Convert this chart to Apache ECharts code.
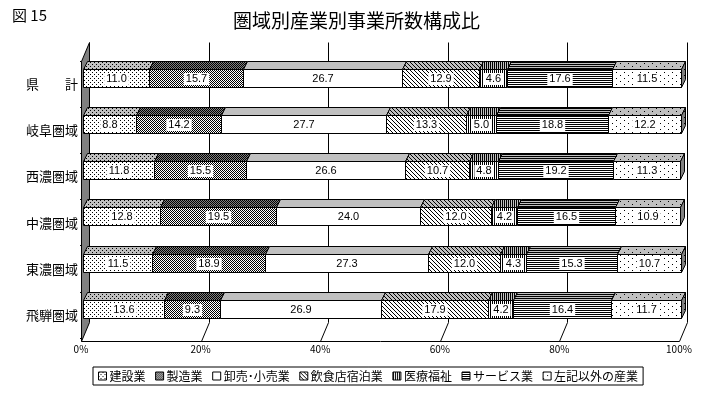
<!DOCTYPE html>
<html><head><meta charset="utf-8">
<script src="https://cdn.jsdelivr.net/npm/echarts@6/dist/echarts.min.js"></script>
<style>html,body{margin:0;padding:0;background:#fff}#c{width:713px;height:396px}</style>
</head><body><div id="c"></div>
<script>
const regions = ['県　　計','岐阜圏域','西濃圏域','中濃圏域','東濃圏域','飛騨圏域'];
const industries = ['建設業','製造業','卸売･小売業','飲食店宿泊業','医療福祉','サービス業','左記以外の産業'];
const kensetsu = [11.0, 8.8, 11.8, 12.8, 11.5, 13.6];
const seizou   = [15.7, 14.2, 15.5, 19.5, 18.9, 9.3];
const oroshi   = [26.7, 27.7, 26.6, 24.0, 27.3, 26.9];
const inshoku  = [12.9, 13.3, 10.7, 12.0, 12.0, 17.9];
const iryou    = [4.6, 5.0, 4.8, 4.2, 4.3, 4.2];
const service  = [17.6, 18.8, 19.2, 16.5, 15.3, 16.4];
const sonota   = [11.5, 12.2, 11.3, 10.9, 10.7, 11.7];
const xTicks = [0, 20, 40, 60, 80, 100];

function pat(w, h, bg, dots) {
  const c = document.createElement('canvas'); c.width = w; c.height = h;
  const g = c.getContext('2d'); g.fillStyle = bg; g.fillRect(0, 0, w, h);
  g.fillStyle = '#000'; dots.forEach(([x, y]) => g.fillRect(x, y, 1, 1));
  return { image: c, repeat: 'repeat' };
}
const diag = [[0,0],[1,1],[2,2],[3,3]];
const fronts = [
  pat(4,4,'#fff',[[0,0],[2,2]]),
  pat(2,2,'#fff',[[0,0],[1,1]]),
  '#ffffff',
  pat(4,4,'#fff',diag),
  pat(2,1,'#fff',[[0,0]]),
  pat(1,2,'#fff',[[0,0]]),
  pat(8,6,'#fff',[[0,0],[4,3]])
];
const tops = [
  pat(4,4,'#c0c0c0',[[0,0],[2,2]]),
  pat(2,2,'#808080',[[0,0],[1,1]]),
  '#c0c0c0',
  pat(4,4,'#c0c0c0',diag),
  pat(2,1,'#c0c0c0',[[0,0]]),
  pat(1,2,'#c0c0c0',[[0,0]]),
  pat(8,6,'#c0c0c0',[[0,0],[4,3]])
];
const sideFill = pat(8,6,'#808080',[[0,0],[4,3]]);
const seriesValues = [kensetsu, seizou, oroshi, inshoku, iryou, service, sonota];

const FONT = '"Noto Sans CJK JP", sans-serif';
const r = v => Math.round(v) + 0.5;

const series = [];
// frame: wall, floor, back grid lines
series.push({
  type: 'custom', silent: true, z: 1, data: [[0, 0]], encode: { x: 0, y: 1 },
  renderItem: function (params, api) {
    const cs = params.coordSys;
    const topY = r(cs.y), backTop = topY - 19;
    const floorFront = r(cs.y + cs.height + 3), floorBack = floorFront - 19;
    const children = [];
    xTicks.forEach(v => {
      const cx = Math.round(api.coord([v, 0])[0]);
      const bx = cx + 6.5, fx = cx - 1.5;
      if (v === xTicks[0]) {
        children.push({ type: 'polygon', shape: { points: [[fx, topY], [bx, backTop], [bx, floorBack], [fx, floorFront]] },
          style: { fill: '#808080', stroke: '#000', lineWidth: 1 } });
      } else {
        children.push({ type: 'polyline', shape: { points: [[bx, backTop], [bx, floorBack], [fx, floorFront]] },
          style: { fill: null, stroke: '#000', lineWidth: 1 } });
      }
    });
    const x0 = Math.round(api.coord([xTicks[0], 0])[0]) - 1.5;
    const x1 = Math.round(api.coord([xTicks[xTicks.length - 1], 0])[0]) - 1.5;
    children.push({ type: 'line', shape: { x1: x0, y1: floorFront, x2: x1, y2: floorFront }, style: { stroke: '#000', lineWidth: 1 } });
    return { type: 'group', children: children };
  }
});

industries.forEach((name, k) => {
  const data = regions.map((_, i) => {
    let s = 0; for (let j = 0; j < k; j++) s += seriesValues[j][i];
    return [i, s, seriesValues[k][i]];
  });
  const isLast = k === industries.length - 1;
  series.push({
    type: 'custom', name: name, silent: true, z: 2,
    itemStyle: { color: fronts[k], borderColor: '#000', borderWidth: 1 },
    encode: { x: 1, y: 0 },
    data: data,
    renderItem: function (params, api) {
      const i = api.value(0), s = api.value(1), v = api.value(2);
      const band = api.size([0, 1])[1];
      const cy = api.coord([0, i])[1];
      const yt = r(cy - band / 2), yf = yt + 8, yb = yt + 26;
      const xa = r(api.coord([s, i])[0]), xb = r(api.coord([s + v, i])[0]);
      const ch = [
        { type: 'polygon', shape: { points: [[xa, yf], [xb, yf], [xb + 4, yt], [xa + 4, yt]] },
          style: { fill: tops[k], stroke: '#000', lineWidth: 1 } },
        { type: 'rect', shape: { x: xa, y: yf, width: xb - xa, height: yb - yf },
          style: { fill: fronts[k], stroke: '#000', lineWidth: 1 } }
      ];
      if (isLast) {
        ch.push({ type: 'polygon', shape: { points: [[xb, yf], [xb + 4, yt], [xb + 4, yt + 18], [xb, yb]] },
          style: { fill: sideFill, stroke: '#000', lineWidth: 1 } });
      }
      ch.push({ type: 'text', z2: 100, style: {
        x: (xa + xb) / 2, y: (yf + yb) / 2 + 0.5, text: v.toFixed(1), align: 'center', verticalAlign: 'middle',
        fill: '#000', fontSize: 11, fontFamily: '"Liberation Sans", sans-serif',
        backgroundColor: '#fff', padding: [1, 2, 0, 2] } });
      return { type: 'group', children: ch };
    }
  });
});

const chart = echarts.init(document.getElementById('c'), null, { renderer: 'canvas' });
chart.setOption({
  animation: false,
  backgroundColor: '#fff',
  title: [
    { text: '圏域別産業別事業所数構成比', left: 'center', top: 11, padding: 0,
      textStyle: { fontSize: 19, fontWeight: 'normal', color: '#000', fontFamily: FONT } },
    { text: '図 15', left: 12, top: 8, padding: 0,
      textStyle: { fontSize: 15, fontWeight: 'normal', color: '#000', fontFamily: FONT } }
  ],
  legend: {
    data: industries, left: 93, top: 367, icon: 'rect', itemWidth: 8, itemHeight: 8, itemGap: 9.6,
    padding: [3, 5], borderColor: '#000', borderWidth: 1, backgroundColor: '#fff',
    itemStyle: { borderColor: '#000', borderWidth: 1 },
    textStyle: { fontSize: 12, color: '#000', fontFamily: FONT, padding: [0, 0, 0, -2] },
    selectedMode: false
  },
  grid: { left: 83, right: 32, top: 61, height: 277 },
  xAxis: {
    type: 'value', min: 0, max: 100, interval: 20,
    axisLine: { show: false }, axisTick: { show: false }, splitLine: { show: false },
    axisLabel: { formatter: '{value}%', fontSize: 10, color: '#000', margin: 6, padding: [0, 4, 0, 0], fontFamily: FONT }
  },
  yAxis: {
    type: 'category', data: regions, inverse: true,
    axisLine: { show: false },
    axisTick: { show: true, length: 3, lineStyle: { color: '#000' } },
    axisLabel: { fontSize: 13, color: '#000', margin: 5, padding: [7, 0, 0, 0], fontFamily: FONT }
  },
  series: series
});
</script></body></html>
